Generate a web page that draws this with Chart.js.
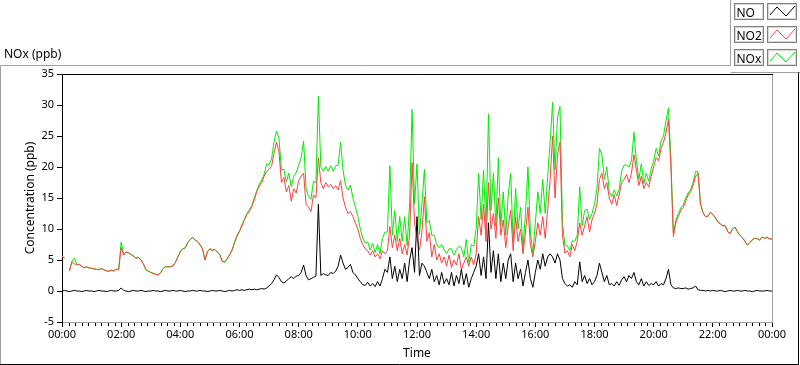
<!DOCTYPE html>
<html><head><meta charset="utf-8">
<script src="https://cdn.jsdelivr.net/npm/chart.js@4/dist/chart.umd.min.js"></script>
<style>html,body{margin:0;padding:0;background:#fff;overflow:hidden}</style>
</head><body>
<canvas id="c" width="800" height="365" style="display:block;width:800px;height:365px"></canvas>
<script>
// ---------------- data ----------------
const seriesNames = ['NO', 'NO2', 'NOx'];
const seriesColors = ['#000000', '#ff4040', '#00ee00'];
const sampleStepMinutes = 5;
const xTickLabels = ['00:00','02:00','04:00','06:00','08:00','10:00','12:00','14:00','16:00','18:00','20:00','22:00','00:00'];
const yTickValues = [-5, 0, 5, 10, 15, 20, 25, 30, 35];
const yAxisTitle = 'Concentration (ppb)';
const xAxisTitle = 'Time';
const chartCaption = 'NOx (ppb)';

const NO = [
0.0,0.1,0.0,-0.1,0.0,0.1,0.0,0.0,-0.1,0.0,0.1,0.0,
0.0,-0.1,0.0,0.1,0.0,0.0,-0.1,0.0,0.1,0.0,0.0,0.1,
0.5,0.1,0.0,-0.1,0.0,0.1,0.0,0.0,0.1,0.0,-0.1,0.0,
0.0,0.1,0.0,0.0,-0.1,0.0,0.1,0.0,0.0,0.1,0.0,0.0,
0.1,0.0,-0.1,0.0,0.0,0.1,0.0,0.0,0.1,0.0,0.0,-0.1,
0.0,0.1,0.0,0.0,0.1,0.0,-0.1,0.0,0.1,0.0,0.1,0.2,
0.1,0.2,0.1,0.2,0.3,0.2,0.3,0.2,0.3,0.4,0.3,0.5,
0.8,1.2,1.8,2.6,2.2,1.5,1.3,1.6,2.0,2.3,2.0,2.4,
2.5,3.0,4.2,2.5,1.8,2.0,2.2,2.4,14.0,2.5,2.8,2.6,
2.5,3.0,2.8,3.2,4.0,5.8,4.5,3.5,3.8,4.3,3.0,2.6,
2.0,1.5,1.0,0.9,1.4,0.8,1.2,0.7,1.5,0.8,2.0,3.5,
3.0,5.5,2.0,4.0,1.5,3.5,2.0,4.5,1.5,5.0,7.0,3.0,
12.0,2.5,4.5,4.0,3.0,2.0,3.5,1.5,2.5,1.0,3.0,1.2,
2.0,1.0,3.0,0.8,2.5,1.2,3.5,1.0,2.8,0.6,2.0,3.0,
4.0,6.0,2.5,5.5,2.0,11.0,3.0,6.5,2.0,6.0,1.5,4.5,
2.0,5.0,6.0,1.5,4.5,2.0,3.5,0.8,3.0,5.0,2.0,0.6,
3.0,5.0,3.5,6.0,4.0,5.5,6.0,5.5,4.5,6.0,5.0,2.0,
1.2,0.8,1.0,0.6,1.5,1.0,4.7,1.5,2.5,1.2,2.0,1.0,
1.5,2.5,4.5,3.0,1.5,2.5,1.0,1.2,0.8,1.5,0.9,1.8,
2.3,1.5,2.5,2.0,3.0,1.5,1.0,2.0,0.8,1.5,0.9,1.2,
1.0,1.5,0.8,1.2,1.0,2.0,3.5,1.0,0.5,0.4,0.5,0.4,
0.4,0.5,0.3,0.4,0.5,0.8,0.2,0.1,0.1,0.0,0.1,0.0,
0.1,0.0,0.0,0.1,0.0,-0.1,0.0,0.1,0.0,0.0,0.1,0.0,
0.0,0.1,0.0,0.0,-0.1,0.0,0.1,0.0,0.0,0.0,0.1,0.0,
0.0];

const NO2 = [
5.6,5.3,null,3.2,4.7,4.4,4.2,4.3,4.0,3.8,3.9,3.7,
3.7,3.6,3.5,3.4,3.6,3.4,3.3,3.2,3.3,3.2,3.5,3.4,
7.0,5.8,6.3,6.2,5.9,5.6,5.3,5.4,5.0,4.4,3.5,3.2,
3.0,2.8,2.7,2.6,3.0,3.6,3.9,3.9,3.9,4.0,4.6,5.5,
6.3,6.8,7.0,7.8,8.3,8.6,8.2,8.0,7.4,6.8,5.0,6.4,
6.8,6.5,6.7,6.3,5.8,4.8,4.7,5.2,5.8,6.6,7.8,8.8,
9.6,10.5,11.5,12.3,12.8,13.6,14.7,16.0,16.9,17.5,18.5,19.3,
19.6,20.1,22.2,24.0,22.5,17.5,18.3,16.0,17.0,14.5,16.5,15.8,
17.8,18.5,19.0,14.0,13.5,12.8,15.5,15.0,21.5,17.5,16.5,17.5,
16.8,17.2,16.5,17.0,16.3,17.8,15.0,13.5,12.5,12.8,12.0,11.0,
10.0,8.5,7.5,6.8,6.5,5.8,6.5,5.5,6.0,5.2,6.5,6.0,
6.5,10.4,7.0,9.0,6.5,8.5,6.0,7.5,5.8,9.0,20.7,11.0,
8.5,6.6,9.5,15.2,8.0,9.4,5.5,7.5,5.0,6.0,4.5,5.5,
4.0,5.8,3.8,5.0,4.2,6.0,3.5,4.5,5.5,4.0,5.5,4.2,
6.0,12.0,9.0,14.0,8.0,17.5,10.0,12.5,8.5,15.0,9.0,11.5,
7.0,10.5,13.0,6.5,12.0,8.0,10.0,6.0,9.5,13.5,7.5,5.5,
8.0,11.0,9.0,12.0,8.5,13.0,18.0,25.0,15.0,22.0,24.0,9.0,
6.1,6.5,5.5,7.5,6.5,8.0,11.0,9.0,10.5,12.0,9.5,11.5,
12.5,14.0,18.0,19.0,16.5,17.5,15.0,14.0,15.5,13.8,15.5,17.5,
18.0,18.8,17.5,19.0,22.0,19.5,17.0,18.5,16.5,17.5,16.8,18.5,
20.0,21.5,21.0,23.0,24.0,25.5,27.7,20.0,8.8,11.0,12.0,13.0,
13.5,14.5,15.5,16.0,17.0,18.5,19.0,14.0,12.6,12.0,12.0,12.7,
12.3,11.8,11.2,10.8,10.5,10.6,9.6,9.2,10.0,10.3,9.5,9.0,
8.6,8.0,7.4,7.8,8.3,8.5,8.4,8.2,8.7,8.5,8.6,8.4,
8.4];

const NOx = [
5.6,5.3,null,3.2,4.8,5.3,4.3,4.3,4.0,3.7,3.9,3.7,
3.7,3.5,3.5,3.5,3.6,3.5,3.2,3.2,3.4,3.2,3.5,3.5,
7.9,5.9,6.3,6.1,5.9,5.7,5.3,5.4,5.1,4.4,3.4,3.2,
3.0,2.9,2.7,2.6,2.9,3.6,4.0,3.9,3.9,4.1,4.6,5.5,
6.4,6.8,6.9,7.8,8.3,8.7,8.2,8.0,7.5,6.8,5.0,6.3,
6.8,6.6,6.7,6.3,5.9,4.8,4.6,5.2,5.9,6.6,7.9,9.0,
9.7,10.7,11.6,12.5,13.1,13.8,15.0,16.2,17.2,17.9,18.8,20.5,
20.4,21.3,24.0,25.8,24.7,19.6,19.6,17.6,19.0,16.8,18.5,19.1,
20.3,21.5,24.2,16.5,15.3,14.8,17.7,17.4,31.4,20.0,19.3,20.1,
19.3,20.2,19.3,20.2,20.3,24.0,19.5,17.0,16.3,17.1,15.0,13.6,
12.0,10.0,8.5,7.7,7.9,6.6,7.7,6.2,7.5,6.0,8.5,9.5,
9.5,20.2,9.0,13.0,8.0,12.0,8.0,12.0,7.3,14.0,29.3,14.0,
20.5,9.1,14.0,19.6,11.0,11.4,9.0,9.0,7.5,7.0,7.5,6.7,
6.0,6.8,6.8,5.8,6.7,7.2,7.0,5.5,8.3,4.6,7.5,7.2,
10.0,19.0,11.5,19.5,10.0,28.5,13.0,19.0,10.5,21.5,10.5,16.0,
9.0,15.5,19.0,8.0,16.5,10.0,13.5,6.8,12.5,20.0,9.5,6.1,
11.0,16.0,12.5,18.0,12.5,18.5,24.0,30.4,19.5,28.0,29.8,11.0,
7.3,7.3,6.5,8.1,8.0,9.0,16.8,10.5,13.0,13.2,11.5,12.5,
14.0,16.5,23.0,22.0,18.0,20.0,16.0,15.2,16.3,15.3,16.4,19.3,
20.3,20.3,20.0,21.0,25.6,21.0,18.0,20.5,17.3,19.0,17.7,19.7,
21.0,23.0,21.8,24.2,25.0,27.5,29.5,21.0,9.3,11.4,12.5,13.4,
13.9,15.0,15.8,16.4,17.5,19.3,19.2,14.1,12.7,12.0,12.1,12.7,
12.4,11.8,11.2,10.9,10.5,10.5,9.6,9.3,10.0,10.3,9.6,9.0,
8.6,8.1,7.4,7.8,8.2,8.5,8.5,8.2,8.7,8.5,8.7,8.4,
8.4];

// ---------------- helpers ----------------
const FONT = "'Noto Sans', 'DejaVu Sans', sans-serif";
function toPoints(arr) { return arr.map((v, i) => ({ x: i * sampleStepMinutes, y: v })); }
const seriesData = [NO, NO2, NOx];

const decorPlugin = {
  id: 'decor',
  beforeDraw(chart) {
    const ctx = chart.ctx;
    ctx.save();
    ctx.fillStyle = '#ffffff';
    ctx.fillRect(0, 0, chart.width, chart.height);
    ctx.restore();
  },
  afterDraw(chart) {
    const ctx = chart.ctx;
    const a = chart.chartArea;
    const xs = chart.scales.x;
    ctx.save();
    ctx.lineWidth = 1;
    // outer frame
    ctx.strokeStyle = '#a0a0a0';
    ctx.beginPath();
    ctx.moveTo(0.5, 365); ctx.lineTo(0.5, 65.5); ctx.lineTo(730.5, 65.5); ctx.lineTo(730.5, 0);
    ctx.moveTo(730.5, 72.5); ctx.lineTo(800, 72.5);
    ctx.stroke();
    ctx.strokeStyle = '#000000';
    ctx.beginPath();
    ctx.moveTo(0, 364.5); ctx.lineTo(799, 364.5);
    ctx.moveTo(798.5, 72.5); ctx.lineTo(798.5, 365);
    ctx.stroke();
    // plot frame top (dark) and right (gray)
    ctx.strokeStyle = '#000000';
    ctx.beginPath();
    ctx.moveTo(Math.round(a.left), Math.round(a.top) + 0.5); ctx.lineTo(Math.round(a.right) + 1, Math.round(a.top) + 0.5);
    ctx.stroke();
    ctx.strokeStyle = '#a0a0a0';
    ctx.beginPath();
    ctx.moveTo(Math.round(a.right) + 0.5, Math.round(a.top) + 1); ctx.lineTo(Math.round(a.right) + 0.5, Math.round(a.bottom) + 1);
    ctx.stroke();
    // minor x ticks
    ctx.strokeStyle = '#000000';
    ctx.beginPath();
    const minorStep = 120 / 9;
    for (let k = 0; k <= 108; k++) {
      if (k % 9 === 0) continue;
      const px = Math.round(xs.getPixelForValue(k * minorStep)) + 0.5;
      ctx.moveTo(px, Math.round(a.bottom) + 1); ctx.lineTo(px, Math.round(a.bottom) + 4);
    }
    ctx.stroke();
    // caption
    ctx.fillStyle = '#000000';
    ctx.font = '12px ' + FONT;
    ctx.textAlign = 'left';
    ctx.textBaseline = 'alphabetic';
    ctx.fillText(chartCaption, 4, 58);
    // legend
    const rowTops = [3, 26, 49];
    for (let i = 0; i < 3; i++) {
      const t = rowTops[i];
      ctx.strokeStyle = '#808080';
      ctx.strokeRect(734.5, t + 0.5, 29, 16);
      ctx.strokeStyle = '#d8d8d8';
      ctx.strokeRect(735.5, t + 1.5, 27, 14);
      ctx.fillStyle = '#000000';
      ctx.font = '12px ' + FONT;
      ctx.textAlign = 'left';
      ctx.textBaseline = 'alphabetic';
      ctx.fillText(seriesNames[i], 736.5, t + 13.5);
      ctx.strokeStyle = '#808080';
      ctx.strokeRect(767.5, t + 0.5, 29, 16);
      ctx.strokeStyle = '#d8d8d8';
      ctx.strokeRect(768.5, t + 1.5, 27, 14);
      ctx.strokeStyle = seriesColors[i];
      ctx.beginPath();
      ctx.moveTo(770, t + 12); ctx.lineTo(777, t + 4); ctx.lineTo(786, t + 13); ctx.lineTo(795, t + 3);
      ctx.stroke();
    }
    ctx.restore();
  }
};

new Chart(document.getElementById('c'), {
  type: 'line',
  data: {
    datasets: seriesNames.map((name, i) => ({
      label: name,
      data: toPoints(seriesData[i]),
      borderColor: seriesColors[i],
      backgroundColor: seriesColors[i],
      borderWidth: 1,
      pointRadius: 0,
      tension: 0,
      spanGaps: false,
      fill: false
    }))
  },
  options: {
    responsive: false,
    animation: false,
    devicePixelRatio: 1,
    layout: { padding: { top: 74, right: 28, left: 0, bottom: 0 } },
    plugins: { legend: { display: false }, tooltip: { enabled: false }, title: { display: false } },
    scales: {
      x: {
        type: 'linear', min: 0, max: 1440,
        afterBuildTicks: s => { s.ticks = xTickLabels.map((l, i) => ({ value: i * 120 })); },
        afterFit: s => { s.height = 43; },
        ticks: {
          autoSkip: false, maxRotation: 0, minRotation: 0, padding: 1, color: '#000',
          font: { family: FONT, size: 11 },
          callback: v => xTickLabels[Math.round(v / 120)]
        },
        grid: { display: true, drawOnChartArea: false, drawTicks: true, tickLength: 5, color: '#000', lineWidth: 1 },
        border: { display: true, color: '#a0a0a0' },
        title: { display: true, text: xAxisTitle, color: '#000', font: { family: FONT, size: 12 }, padding: { top: 0, bottom: 4 } }
      },
      y: {
        type: 'linear', min: -5, max: 35,
        afterBuildTicks: s => { s.ticks = yTickValues.map(v => ({ value: v })); },
        afterFit: s => { s.width = 62; },
        ticks: { padding: 3, color: '#000', font: { family: FONT, size: 11 } },
        grid: { display: true, drawOnChartArea: false, drawTicks: true, tickLength: 5, color: '#000', lineWidth: 1 },
        border: { display: true, color: '#000' },
        title: { display: true, text: yAxisTitle, color: '#000', font: { family: FONT, size: 12 }, padding: { top: 23, bottom: 0 } }
      }
    }
  },
  plugins: [decorPlugin]
});
</script>
</body></html>
